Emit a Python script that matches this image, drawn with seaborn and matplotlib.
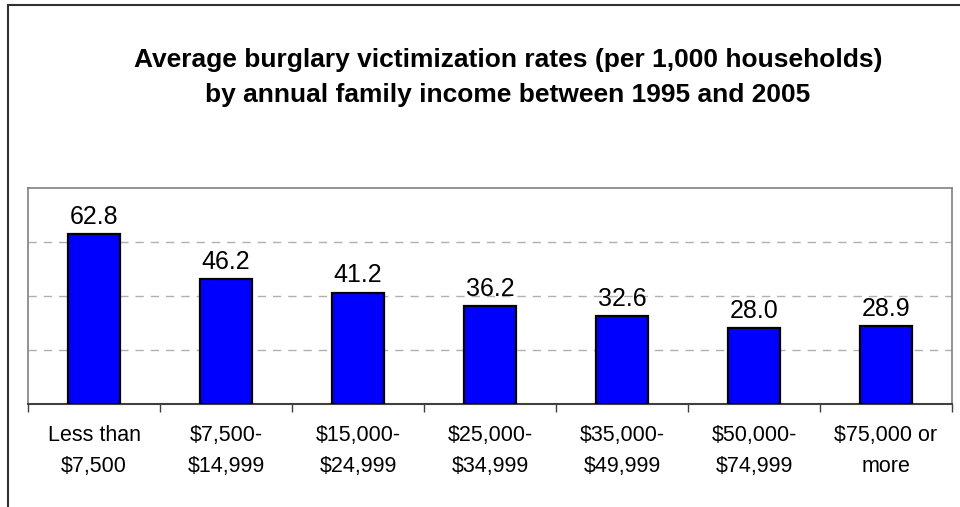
import pandas as pd
import seaborn as sns
import matplotlib.pyplot as plt
from matplotlib.patches import Rectangle

# income groups and the average burglary rate for each (per 1,000 households)
categories = ['Less than\n$7,500', '$7,500-\n$14,999', '$15,000-\n$24,999', '$25,000-\n$34,999',
              '$35,000-\n$49,999', '$50,000-\n$74,999', '$75,000 or\nmore']
rates = [62.8, 46.2, 41.2, 36.2, 32.6, 28.0, 28.9]

df = pd.DataFrame({'income': categories, 'rate': rates})

sns.set_style('white')
plt.rcParams['font.family'] = ['Liberation Sans', 'DejaVu Sans']
plt.rcParams['text.color'] = 'black'
plt.rcParams['xtick.color'] = 'black'

fig = plt.figure(figsize=(9.6, 5.07), dpi=100)
ax = fig.add_axes([28/960, 103/507, 924/960, 216/507])

sns.barplot(x='income', y='rate', data=df, color='#0000FF', width=0.39,
            edgecolor='black', linewidth=1.6, saturation=1, ax=ax, zorder=3)

ax.set_ylim(0, 80)
ax.set_xlim(-0.5, len(categories) - 0.5)
ax.set_yticks([20, 40, 60])
ax.yaxis.grid(True, linestyle=(0, (6, 5)), color='#b0b0b0', linewidth=1)
ax.tick_params(axis='y', left=False, labelleft=False)
ax.set_xlabel('')
ax.set_ylabel('')

# ticks between categories, labels at the centres
ax.set_xticks([i - 0.5 for i in range(len(categories) + 1)], minor=False)
ax.set_xticklabels([])
ax.set_xticks(range(len(categories)), minor=True)
ax.set_xticklabels(categories, minor=True, fontsize=15.5, linespacing=1.65, color='black')
ax.tick_params(axis='x', which='major', length=6, width=1, color='#404040', direction='out', bottom=True)
ax.tick_params(axis='x', which='minor', length=0, pad=15)

for s in ['top', 'right', 'left']:
    ax.spines[s].set_color('#808080')
    ax.spines[s].set_linewidth(1.2)
ax.spines['bottom'].set_color('#404040')
ax.spines['bottom'].set_linewidth(1.5)

for i, v in enumerate(rates):
    ax.text(i, v + 2.0, f'{v:.1f}', ha='center', va='bottom', fontsize=18, color='black')

fig.text(508/960, 1 - 60/507, 'Average burglary victimization rates (per 1,000 households)',
         ha='center', va='center', fontsize=19, fontweight='bold', color='black')
fig.text(508/960, 1 - 95/507, 'by annual family income between 1995 and 2005',
         ha='center', va='center', fontsize=19, fontweight='bold', color='black')

# outer chart frame (right and bottom run off the picture)
fig.patches.append(Rectangle((8/960, -0.1), 1.2, 1.1 - 5/507, transform=fig.transFigure,
                             fill=False, edgecolor='#303030', linewidth=1.5))

plt.savefig('out.png', dpi=100)
